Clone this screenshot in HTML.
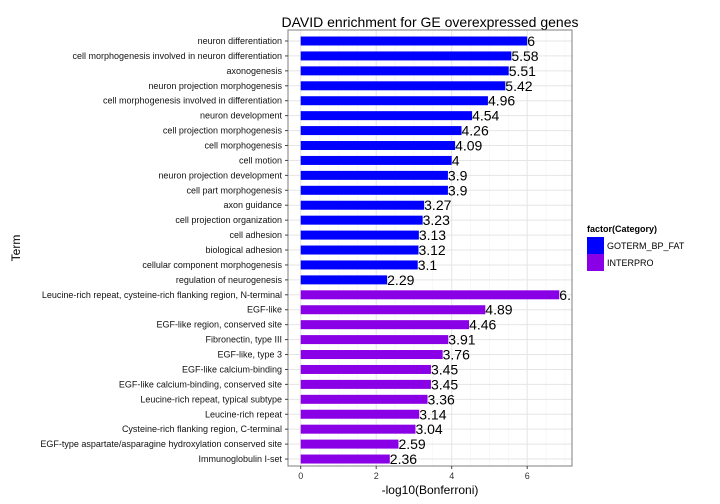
<!DOCTYPE html>
<html><head><meta charset="utf-8"><style>
body{margin:0;background:#fff}
svg{display:block;font-family:"Liberation Sans",Arial,sans-serif}
</style></head><body>
<svg id="chart" width="720" height="504">
<rect x="0" y="0" width="720" height="504" fill="#fff"/>
<text x="430" y="27" text-anchor="middle" font-size="14" fill="#000">DAVID enrichment for GE overexpressed genes</text>
<defs><clipPath id="pc"><rect x="288" y="30" width="284" height="436"/></clipPath></defs>
<g id="grid"></g>
<g id="bars" clip-path="url(#pc)"></g>
<rect x="288" y="30" width="284" height="436" fill="none" stroke="#7f7f7f" stroke-width="1"/>
<g id="axes"></g>
<text x="430" y="494" text-anchor="middle" font-size="12">-log10(Bonferroni)</text>
<text x="20" y="248" text-anchor="middle" font-size="12" transform="rotate(-90 20 248)">Term</text>
<g>
<text x="587" y="232" font-size="9" font-weight="bold">factor(Category)</text>
<rect x="587" y="237" width="17" height="17" fill="#0000ff"/>
<text x="607" y="249" font-size="9">GOTERM_BP_FAT</text>
<rect x="587" y="254" width="17" height="17" fill="#8a00e6"/>
<text x="607" y="266" font-size="9">INTERPRO</text>
</g>
</svg>
<script>
const terms=["neuron differentiation","cell morphogenesis involved in neuron differentiation","axonogenesis","neuron projection morphogenesis","cell morphogenesis involved in differentiation","neuron development","cell projection morphogenesis","cell morphogenesis","cell motion","neuron projection development","cell part morphogenesis","axon guidance","cell projection organization","cell adhesion","biological adhesion","cellular component morphogenesis","regulation of neurogenesis","Leucine-rich repeat, cysteine-rich flanking region, N-terminal","EGF-like","EGF-like region, conserved site","Fibronectin, type III","EGF-like, type 3","EGF-like calcium-binding","EGF-like calcium-binding, conserved site","Leucine-rich repeat, typical subtype","Leucine-rich repeat","Cysteine-rich flanking region, C-terminal","EGF-type aspartate/asparagine hydroxylation conserved site","Immunoglobulin I-set"];
const values=[6,5.58,5.51,5.42,4.96,4.54,4.26,4.09,4,3.9,3.9,3.27,3.23,3.13,3.12,3.1,2.29,6.85,4.89,4.46,3.91,3.76,3.45,3.45,3.36,3.14,3.04,2.59,2.36];
const categories=["G","G","G","G","G","G","G","G","G","G","G","G","G","G","G","G","G","I","I","I","I","I","I","I","I","I","I","I","I"];
const xTicks=[0,2,4,6];
const NS="http://www.w3.org/2000/svg";
const x=v=>300.7+v*37.75;
const y=i=>41+i*14.93;
function mk(t,a,p){const e=document.createElementNS(NS,t);for(const k in a)e.setAttribute(k,a[k]);p.appendChild(e);return e;}
const grid=document.getElementById('grid'),bars=document.getElementById('bars'),axes=document.getElementById('axes');
for(let v=-0.5;v<=7.25;v+=0.5){const X=x(v);if(X<288||X>572)continue;
 const l=mk('line',{x1:X,x2:X,y1:30,y2:466,stroke:Number.isInteger(v/2)?'#e5e5e5':'#f2f2f2','stroke-width':Number.isInteger(v/2)?1:0.5},grid);
 
 }
terms.forEach((t,i)=>{
 const g=mk('line',{x1:288,x2:572,y1:y(i),y2:y(i),stroke:'#e5e5e5','stroke-width':1},grid);
 
 
 const b=mk('rect',{x:x(0),y:y(i)-4.5,width:x(values[i])-x(0),height:9,fill:categories[i]==='G'?'#0000ff':'#8a00e6'},bars);
 
 
 const vt=mk('text',{x:x(values[i]),y:y(i)+5,'font-size':14,fill:'#000'},bars);
 vt.textContent=String(values[i]);
 
 
 const lt=mk('text',{x:282,y:y(i)+3,'font-size':9,'text-anchor':'end',fill:'#111'},axes);
 lt.textContent=t;
 
 
 const tk=mk('line',{x1:285,x2:288,y1:y(i),y2:y(i),stroke:'#444'},axes);
 
 
});
xTicks.forEach(v=>{
 const tk=mk('line',{x1:x(v),x2:x(v),y1:466,y2:469,stroke:'#444'},axes);
 
 
 const t=mk('text',{x:x(v),y:479,'font-size':9,'text-anchor':'middle',fill:'#333'},axes);
 t.textContent=v;
 
 
});
</script>
</body></html>
